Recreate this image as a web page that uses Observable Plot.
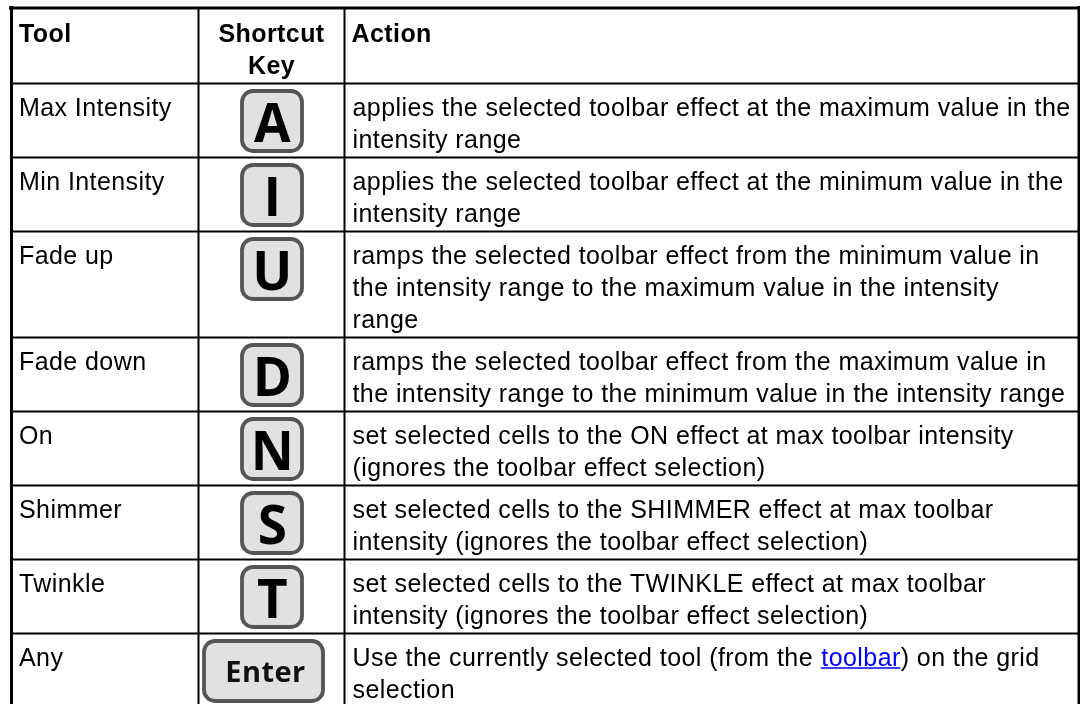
<!DOCTYPE html>
<html>
<head>
<meta charset="utf-8">
<script src="https://cdn.jsdelivr.net/npm/d3@7"></script>
<script src="https://cdn.jsdelivr.net/npm/@observablehq/plot@0.6"></script>
<style>
html,body{margin:0;padding:0;background:#fff;overflow:hidden}
svg{display:block;filter:blur(0.35px);letter-spacing:0.42px}
</style>
</head>
<body>
<div id="chart"></div>
<script>
const headers = ["Tool", "Shortcut", "Key", "Action"];
const tools = ["Max Intensity","Min Intensity","Fade up","Fade down","On","Shimmer","Twinkle","Any"];
const keys = ["A","I","U","D","N","S","T","Enter"];
const actions = [
  ["applies the selected toolbar effect at the maximum value in the","intensity range"],
  ["applies the selected toolbar effect at the minimum value in the","intensity range"],
  ["ramps the selected toolbar effect from the minimum value in","the intensity range to the maximum value in the intensity","range"],
  ["ramps the selected toolbar effect from the maximum value in","the intensity range to the minimum value in the intensity range"],
  ["set selected cells to the ON effect at max toolbar intensity","(ignores the toolbar effect selection)"],
  ["set selected cells to the SHIMMER effect at max toolbar","intensity (ignores the toolbar effect selection)"],
  ["set selected cells to the TWINKLE effect at max toolbar","intensity (ignores the toolbar effect selection)"],
  ["Use the currently selected tool (from the ","selection"]
];
const linkText = "toolbar";
const linkTail = ") on the grid";

const W = 1080, H = 704;
const FONT = "'Liberation Sans', Arial, sans-serif";
const KEYFONT = "'Open Sans', sans-serif";
const SIZE = 25;
const headerBottom = 83, lineStep = 32, rowPad = 10;
const colTool = 11, colKey = 198, colAction = 344, colRight = 1078;
const keyCx = 272, keyW = 64, keyH = 64, enterCx = 263.5, enterW = 123;

// rows built from the number of text lines per row
let cursor = headerBottom;
const rows = tools.map((t, i) => {
  const r = {tool: t, key: keys[i], lines: actions[i], top: cursor};
  cursor += actions[i].length * lineStep + rowPad;
  r.bottom = cursor;
  return r;
});
const hLines = [headerBottom, ...rows.map(r => r.bottom)];
const actionRows = rows.flatMap(r => r.lines.map((text, j) => ({text, y: r.top + lineStep * (j + 1)})));

// position of the inline link after the text that precedes it
const ctx = document.createElement("canvas").getContext("2d");
ctx.font = `${SIZE}px 'Liberation Sans'`;
ctx.letterSpacing = "0.42px";
const anyRow = rows[rows.length - 1];
const linkX = 353 + ctx.measureText(actions[7][0]).width;
const tailX = linkX + ctx.measureText(linkText).width;

const textBase = {fontFamily: FONT, fontSize: SIZE, textAnchor: "start", lineAnchor: "bottom", fill: "#000"};
const isWide = d => d.key.length > 1;

const plot = Plot.plot({
  width: W, height: H,
  margin: 0,
  style: {background: "#fff"},
  x: {domain: [0, W], range: [0, W], axis: null},
  y: {domain: [0, H], range: [0, H], axis: null},
  marks: [
    // keycaps
    Plot.rect(rows, {
      x1: d => isWide(d) ? enterCx - enterW / 2 : keyCx - keyW / 2,
      x2: d => isWide(d) ? enterCx + enterW / 2 : keyCx + keyW / 2,
      y1: d => d.top + 6, y2: d => d.top + 6 + keyH,
      insetLeft: 2, insetRight: 2, insetTop: 2, insetBottom: 2,
      rx: 11, fill: "#e1e1e1", stroke: "#555", strokeWidth: 3.8
    }),
    Plot.text(rows.filter(d => !isWide(d)), {
      x: keyCx, y: d => d.top + 58.5, text: "key",
      fontFamily: KEYFONT, fontWeight: 700, fontSize: 53, fill: "#000",
      lineAnchor: "bottom"
    }),
    Plot.text(rows.filter(isWide), {
      x: enterCx + 1.5, y: d => d.top + 48.5, text: "key",
      fontFamily: KEYFONT, fontWeight: 700, fontSize: 29, fill: "#111",
      lineAnchor: "bottom"
    }),
    // grid
    Plot.ruleY(hLines, {x1: colTool, x2: colRight, stroke: "#000", strokeWidth: 2}),
    Plot.ruleX([colKey, colAction], {y1: 7, y2: H, stroke: "#000", strokeWidth: 2}),
    Plot.ruleY([7.5], {x1: 9, x2: W, stroke: "#000", strokeWidth: 3}),
    Plot.ruleX([11, 1078.5], {y1: 6, y2: H, stroke: "#000", strokeWidth: 3}),
    // header
    Plot.text([{t: headers[0], x: 18.5}, {t: headers[3], x: 351}], {
      x: "x", y: 41, text: "t", ...textBase, fontWeight: 700
    }),
    Plot.text([{t: headers[1], y: 41}, {t: headers[2], y: 73}], {
      x: 271, y: "y", text: "t", ...textBase, textAnchor: "middle", fontWeight: 700
    }),
    // body
    Plot.text(rows, {x: 18.5, y: d => d.top + lineStep, text: "tool", ...textBase}),
    Plot.text(actionRows, {x: 352, y: "y", text: "text", ...textBase}),
    Plot.text([linkText], {x: linkX, y: anyRow.top + lineStep, text: d => d, ...textBase, fill: "#0000ff"}),
    Plot.ruleY([anyRow.top + lineStep + 2.5], {x1: linkX, x2: tailX, stroke: "#0000ff", strokeWidth: 1.5}),
    Plot.text([linkTail], {x: tailX, y: anyRow.top + lineStep, text: d => d, ...textBase})
  ]
});
document.getElementById("chart").appendChild(plot);
</script>
</body>
</html>
